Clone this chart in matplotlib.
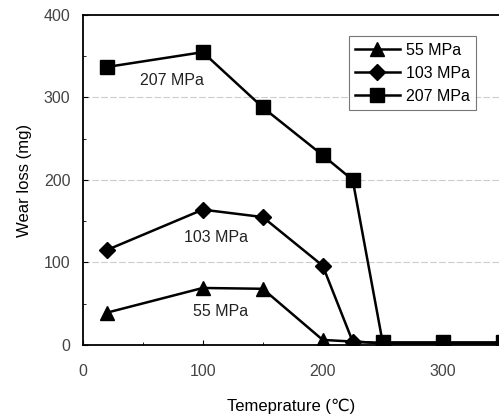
import matplotlib.pyplot as plt
import numpy as np

plt.rcParams['font.family'] = ['Liberation Sans', 'DejaVu Sans']

temp_55 = [20, 100, 150, 200, 250, 300, 350]
wear_55 = [39, 69, 68, 6, 2, 2, 2]
temp_103 = [20, 100, 150, 200, 225, 250, 300, 350]
wear_103 = [115, 164, 155, 96, 4, 2, 2, 2]
temp_207 = [20, 100, 150, 200, 225, 250, 300, 350]
wear_207 = [337, 355, 288, 230, 200, 3, 3, 3]

def main():
    fig = plt.figure(figsize=(4.99, 4.18), dpi=100)
    ax = fig.add_axes([0.166, 0.175, 0.834, 0.789])

    ax.plot(temp_55, wear_55, '-^', color='black', lw=1.8, ms=9.5, label='55 MPa')
    ax.plot(temp_103, wear_103, '-D', color='black', lw=1.8, ms=8.5, label='103 MPa')
    ax.plot(temp_207, wear_207, '-s', color='black', lw=1.8, ms=10, label='207 MPa')

    ax.set_xlim(0, 347)
    ax.set_ylim(0, 400)
    ax.set_xticks([0, 100, 200, 300])
    ax.set_yticks([0, 100, 200, 300, 400])
    ax.set_xticks([50, 150, 250], minor=True)
    ax.set_yticks([50, 150, 250, 350], minor=True)
    ax.tick_params(which='both', direction='in', labelsize=11.5, labelcolor='#444444')
    ax.tick_params(axis='x', pad=14)
    ax.tick_params(axis='y', pad=9)
    for y in [100, 200, 300]:
        ax.axhline(y, color='#cccccc', lw=0.8, ls=(0, (6, 2)), zorder=0)
    ax.spines['right'].set_visible(False)
    for s in ['left', 'bottom', 'top']:
        ax.spines[s].set_linewidth(1.3)

    ax.text(74, 321, '207 MPa', fontsize=11.5, ha='center', va='center', color='#222222')
    ax.text(111, 130, '103 MPa', fontsize=11.5, ha='center', va='center', color='#222222')
    ax.text(115, 40, '55 MPa', fontsize=11.5, ha='center', va='center', color='#222222')

    ax.set_xlabel('Temeprature (℃)', fontsize=12, labelpad=14)
    ax.set_ylabel('Wear loss (mg)', fontsize=12, labelpad=8)

    leg = ax.legend(loc='upper right', bbox_to_anchor=(0.965, 0.96), fontsize=11.5,
                    frameon=True, fancybox=False, edgecolor='#555555',
                    handlelength=2.8, borderpad=0.4, labelspacing=0.5, handletextpad=0.4)
    leg.get_frame().set_linewidth(0.8)

    plt.savefig('out.png', dpi=100)

if __name__ == '__main__':
    main()
